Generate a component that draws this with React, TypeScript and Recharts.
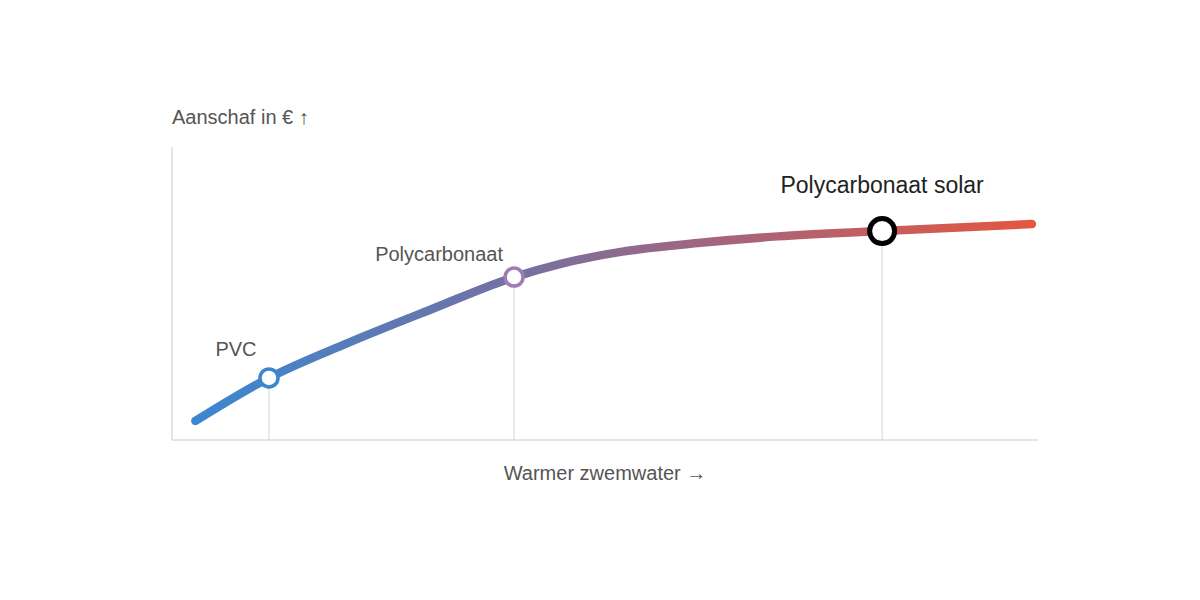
import React from "react";
import { LineChart, Line, XAxis, YAxis, ReferenceLine, ReferenceDot } from "recharts";

// Curve (relative warmth vs. purchase cost)
const curveX = [2.7, 11.2, 20.2, 30.1, 39.5, 45.0, 52.0, 61.0, 70.0, 82.0, 99.3];
const curveY = [6.5, 21.2, 33.0, 44.8, 55.6, 60.2, 64.3, 67.3, 69.5, 71.3, 73.7];

// Highlighted products
const productNames = ["PVC", "Polycarbonaat", "Polycarbonaat solar"];
const productX = [11.2, 39.5, 82.0];
const productY = [21.2, 55.6, 71.3];

const yTitle = "Aanschaf in € ↑";
const xTitle = "Warmer zwemwater →";

const data = curveX.map((x, i) => ({ x, y: curveY[i] }));

const productStyles = [
  { stroke: "#3a86d0", r: 9, sw: 3.5, dx: -33, dy: -29, size: 20, color: "#555" },
  { stroke: "#a07cb5", r: 9, sw: 3.5, dx: -75, dy: -23, size: 20, color: "#555" },
  { stroke: "#000000", r: 12.5, sw: 5, dx: 0, dy: -46, size: 23, color: "#222" },
];

const FONT = '"Liberation Sans", Arial, sans-serif';

export default function App() {
  return (
    <div style={{ position: "relative", width: 1184, height: 584, fontFamily: FONT }}>
      <LineChart
        width={1184}
        height={584}
        data={data}
        margin={{ top: 139, right: 154, bottom: 152, left: 164 }}
      >
        <defs>
          <linearGradient id="curveGrad" x1="0" y1="0" x2="1" y2="0">
            <stop offset="0%" stopColor="#3b87d1" />
            <stop offset="35%" stopColor="#6f72a6" />
            <stop offset="60%" stopColor="#a06682" />
            <stop offset="100%" stopColor="#e3573f" />
          </linearGradient>
        </defs>
        <XAxis
          type="number"
          dataKey="x"
          domain={[0, 100]}
          height={0}
          tick={false}
          tickLine={false}
          axisLine={false}
        />
        <YAxis
          type="number"
          domain={[0, 100]}
          width={0}
          tick={false}
          tickLine={false}
          axisLine={false}
        />
        <ReferenceLine y={0} stroke="#dddddd" strokeWidth={1.5} />
        <ReferenceLine x={0} stroke="#dddddd" strokeWidth={1.5} />
        {productX.map((x, i) => (
          <ReferenceLine
            key={"drop" + i}
            segment={[
              { x, y: 0 },
              { x, y: productY[i] },
            ]}
            stroke="#d4d4d4"
            strokeWidth={1}
          />
        ))}
        <Line
          type="monotone"
          dataKey="y"
          stroke="url(#curveGrad)"
          strokeWidth={8.5}
          strokeLinecap="round"
          strokeLinejoin="round"
          dot={false}
          activeDot={false}
          isAnimationActive={false}
        />
        {productX.map((x, i) => {
          const s = productStyles[i];
          return (
            <ReferenceDot
              key={"dot" + i}
              x={x}
              y={productY[i]}
              r={s.r}
              fill="#ffffff"
              stroke={s.stroke}
              strokeWidth={s.sw}
              label={(props: any) => {
                const vb = props.viewBox || {};
                const cx = (vb.x ?? 0) + (vb.width ?? 0) / 2;
                const cy = (vb.y ?? 0) + (vb.height ?? 0) / 2;
                return (
                  <text
                    x={cx + s.dx}
                    y={cy + s.dy}
                    textAnchor="middle"
                    dominantBaseline="central"
                    fontSize={s.size}
                    fill={s.color}
                    fontFamily={FONT}
                  >
                    {productNames[i]}
                  </text>
                );
              }}
            />
          );
        })}
      </LineChart>
      <div
        style={{
          position: "absolute",
          left: 164,
          top: 98,
          fontSize: 20,
          lineHeight: "22px",
          color: "#555",
          whiteSpace: "nowrap",
        }}
      >
        {yTitle}
      </div>
      <div
        style={{
          position: "absolute",
          left: 164,
          width: 866,
          top: 454,
          fontSize: 20,
          lineHeight: "22px",
          color: "#555",
          textAlign: "center",
          whiteSpace: "nowrap",
        }}
      >
        {xTitle}
      </div>
    </div>
  );
}
